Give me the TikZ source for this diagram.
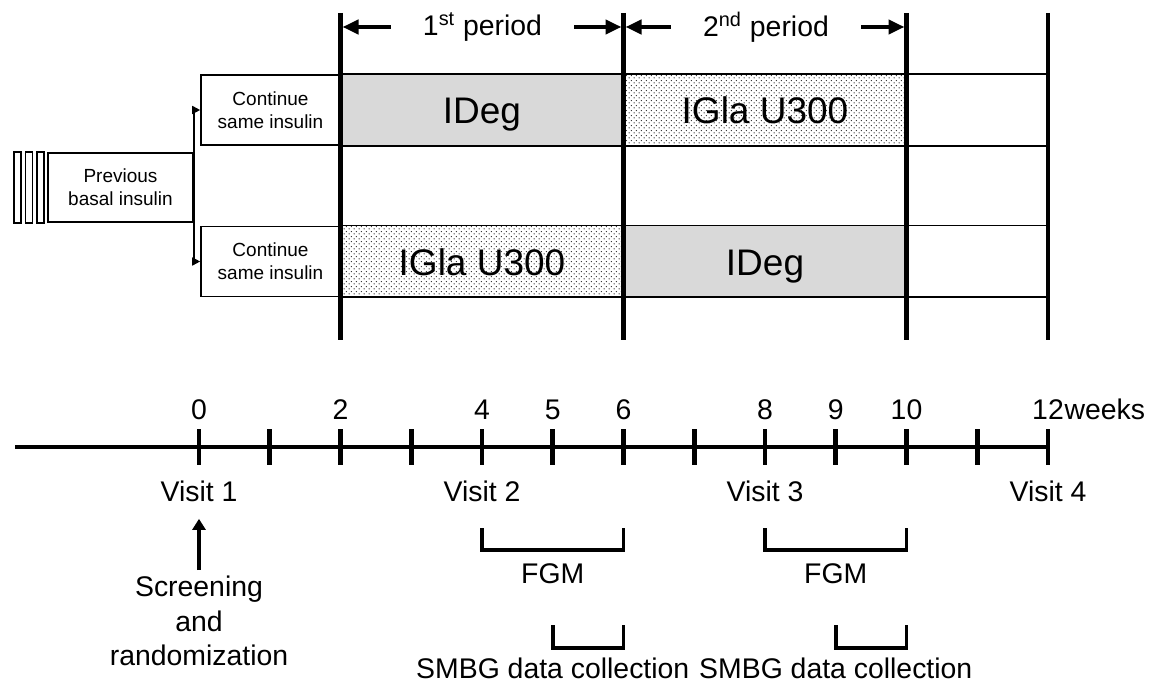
\documentclass[tikz,border=0pt]{standalone}
\usepackage{fontspec}
\setmainfont{Liberation Sans}
\usetikzlibrary{arrows.meta,calc,patterns.meta}
\tikzdeclarepattern{
	name=finedots,
	type=uncolored,
	bounding box={(0pt,0pt) and (2.6pt,2.6pt)},
	tile size={(2.6pt,2.6pt)},
	code={
		\fill (0.65pt,0.65pt) circle (0.38pt);
		\fill (1.95pt,1.95pt) circle (0.38pt);
	}
}
\begin{document}
\begin{tikzpicture}[x=0.5pt,y=-0.5pt,
	thinline/.style={line width=0.8pt},
	thickline/.style={line width=2.3pt},
	smallbox/.style={draw,thinline,align=center,inner sep=0pt,font=\fontsize{9.5}{11.3}\selectfont},
	drug/.style={inner sep=0pt,anchor=base,font=\fontsize{18.5}{20}\selectfont},
	lbl/.style={inner sep=0pt,font=\fontsize{14.2}{17.2}\selectfont},
	degfill/.style={fill=black!15},
	glafill/.style={pattern=finedots,pattern color=black!85},
	parr/.style={-{Triangle[length=8pt,width=7pt]},line width=2.2pt,shorten >=1pt},
	brk/.style={line width=1.8pt}]
	\useasboundingbox (0,0) rectangle (1152,684);
	\foreach \w in {0,...,12}
		\coordinate (t\w) at ({199+70.75*\w},447);
	\coordinate (tstart) at (15,447);
	\node[smallbox,minimum width=72.5pt,minimum height=34.5pt] (prev) at (120.5,187.5) {Previous\\basal insulin};
	\foreach \x in {14,25.5,37}
		\draw[thinline] (\x,0 |- prev.north) rectangle ({\x+7},0 |- prev.south);
	\node[smallbox,minimum width=69.5pt,minimum height=35pt] (cont1) at (270.5,110) {Continue\\same insulin};
	\node[smallbox,minimum width=69.5pt,minimum height=35pt] (cont2) at (270.5,261.5) {Continue\\same insulin};
	\draw[thinline,-{Triangle[length=4pt,width=4pt]}] (prev.east) |- (cont1.west);
	\draw[thinline,-{Triangle[length=4pt,width=4pt]}] (prev.east) |- (cont2.west);
	\fill[degfill] (t2 |- cont1.north) rectangle (t6 |- cont1.south);
	\path[glafill] (t6 |- cont1.north) rectangle (t10 |- cont1.south);
	\path[glafill] (t2 |- cont2.north) rectangle (t6 |- cont2.south);
	\fill[degfill] (t6 |- cont2.north) rectangle (t10 |- cont2.south);
	\draw[thinline] (cont1.north east) rectangle (t12 |- cont1.south);
	\draw[thinline] (cont2.north east) rectangle (t12 |- cont2.south);
	\node[drug] (deg1) at ($(t2 |- cont1)!.5!(t6 |- cont1)+(0,14)$) {IDeg};
	\node[drug] (gla1) at ($(t6 |- cont1)!.5!(t10 |- cont1)+(0,14)$) {IGla U300};
	\node[drug] (gla2) at ($(t2 |- cont2)!.5!(t6 |- cont2)+(0,14)$) {IGla U300};
	\node[drug] (deg2) at ($(t6 |- cont2)!.5!(t10 |- cont2)+(0,14)$) {IDeg};
	\foreach \w in {2,6,10,12}
		\draw[thickline] (t\w |- 0,13) -- (t\w |- 0,340);
	\node[lbl,inner xsep=16pt] (per1) at (482.5,27) {1\textsuperscript{st} period};
	\node[lbl,inner xsep=16pt] (per2) at (766,27) {2\textsuperscript{nd} period};
	\draw[parr] (per1.west) -- (per1.west -| t2);
	\draw[parr] (per1.east) -- (per1.east -| t6);
	\draw[parr] (per2.west) -- (per2.west -| t6);
	\draw[parr] (per2.east) -- (per2.east -| t10);
	\draw[thickline] (tstart) -- (t12);
	\foreach \w in {0,...,12}
		\draw[thickline] (t\w) ++(0,-18) -- ++(0,36);
	\foreach \w in {0,2,4,5,6,8,9,10}
		\node[lbl] (n\w) at (t\w |- 0,410) {\w};
	\node[lbl] (n12) at (t12 |- 0,410) {12};
	\node[lbl,anchor=base west] (wk) at (n12.base east) {weeks};
	\node[lbl] (v1) at (t0 |- 0,491) {Visit 1};
	\node[lbl] (v2) at (t4 |- 0,491) {Visit 2};
	\node[lbl] (v3) at (t8 |- 0,491) {Visit 3};
	\node[lbl] (v4) at (t12 |- 0,491) {Visit 4};
	\node[lbl,align=center,anchor=north] (scr) at (t0 |- 0,576) {Screening\\and\\randomization};
	\draw[-{Triangle[length=5.5pt,width=6.5pt]},line width=2pt,shorten <=3pt,shorten >=8.5pt] (scr.north) -- (v1.south);
	\draw[brk] (t4 |- 0,528) |- (t6 |- 0,550) -- (t6 |- 0,528);
	\draw[brk] (t8 |- 0,528) |- (t10 |- 0,550) -- (t10 |- 0,528);
	\draw[brk] (t5 |- 0,625) |- (t6 |- 0,648) -- (t6 |- 0,625);
	\draw[brk] (t9 |- 0,625) |- (t10 |- 0,648) -- (t10 |- 0,625);
	\node[lbl] (fgm1) at ($(t4)!.5!(t6)+(0,127)$) {FGM};
	\node[lbl] (fgm2) at ($(t8)!.5!(t10)+(0,127)$) {FGM};
	\node[lbl] (smbg1) at (t5 |- 0,668) {SMBG data collection};
	\node[lbl] (smbg2) at (t9 |- 0,668) {SMBG data collection};
\end{tikzpicture}
\end{document}
